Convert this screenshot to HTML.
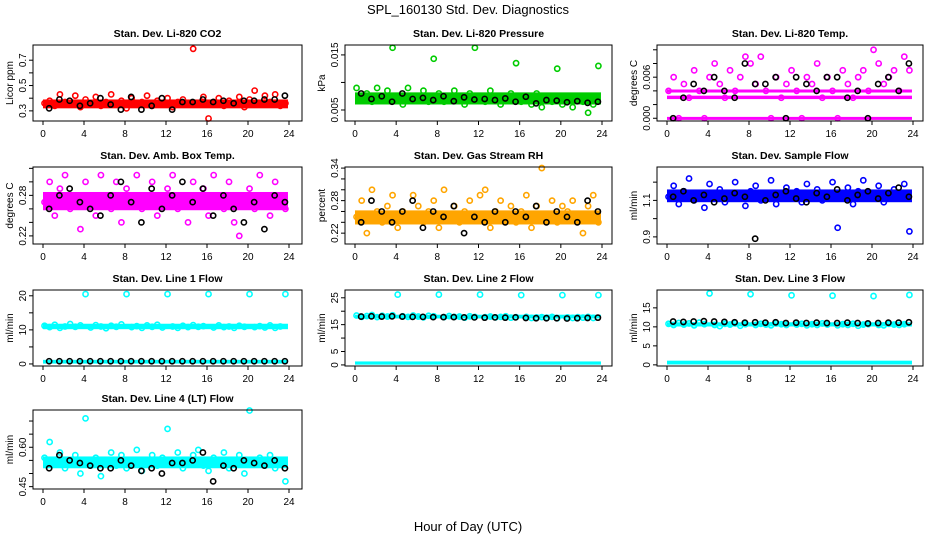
<!DOCTYPE html>
<html><head><meta charset="utf-8"><style>
body{margin:0;background:#fff}
svg{display:block;font-family:"Liberation Sans",sans-serif}
</style></head><body>
<svg id="c" width="936" height="540" viewBox="0 0 936 540">
<text x="468" y="14" font-size="13" text-anchor="middle">SPL_160130  Std. Dev. Diagnostics</text>
<text x="468" y="531" font-size="13" text-anchor="middle">Hour of Day (UTC)</text>
</svg>
<script>
// ---- data ----
const titles=["Stan. Dev. Li-820 CO2","Stan. Dev. Li-820 Pressure","Stan. Dev. Li-820 Temp.","Stan. Dev. Amb. Box Temp.","Stan. Dev. Gas Stream RH","Stan. Dev. Sample Flow","Stan. Dev. Line 1 Flow","Stan. Dev. Line 2 Flow","Stan. Dev. Line 3 Flow","Stan. Dev. Line 4 (LT) Flow"];
const units=["Licor ppm","kPa","degrees C","degrees C","percent","ml/min","ml/min","ml/min","ml/min","ml/min"];
const colors=["#ff0000","#00cc00","#ff00ff","#ff00ff","#ffa500","#0000ff","#00ffff","#00ffff","#00ffff","#00ffff"];
const yMin=[0.22,0.003,-0.0004,0.208,0.20,0.861,-0.6,-0.4,-0.3,0.441];
const yMax=[0.82,0.0168,0.0107,0.322,0.342,1.283,21.7,27.9,19.7,0.742];
const tickVals=[[0.3,0.4,0.5,0.6,0.7],[0.005,0.01,0.015],[0,0.002,0.004,0.006,0.008,0.01],[0.22,0.24,0.26,0.28,0.30,0.32],[0.22,0.24,0.26,0.28,0.30,0.32,0.34],[0.9,1.0,1.1,1.2],[0,5,10,15,20],[0,5,10,15,20,25],[0,5,10,15],[0.45,0.50,0.55,0.60,0.65,0.70]];
const tickLabels=[["0.3","","0.5","","0.7"],["0.005","","0.015"],["0.000","","","0.006","",""],["0.22","","","0.28","",""],["0.22","","","0.28","","","0.34"],["0.9","","1.1",""],["0","","10","","20"],["0","5","","15","","25"],["0","5","10","15"],["0.45","","","0.60","",""]];
const xTicks=[0,4,8,12,16,20,24];
const bandLo=[[0.32],[0.006],[0.0028,-0.0002,0.0039],[0.258],[0.236],[1.09],[10.2,0.1],[17.3,0.1],[10.1,0.1],[0.52]];
const bandHi=[[0.39],[0.0082],[0.0033,0.0002,0.0042],[0.285],[0.262],[1.16],[11.8,1.2],[18.7,1.3],[11.2,1.1],[0.565]];
const colorVals=[
[0.36,0.38,0.34,0.43,0.37,0.35,0.42,0.33,0.39,0.36,0.41,0.34,0.37,0.43,0.35,0.38,0.32,0.40,0.36,0.37,0.42,0.34,0.38,0.35,0.40,0.33,0.37,0.39,0.35,0.79,0.36,0.41,0.24,0.37,0.40,0.34,0.38,0.36,0.41,0.33,0.39,0.46,0.35,0.42,0.37,0.43,0.34,0.36],
[0.009,0.0075,0.008,0.0065,0.009,0.007,0.0085,0.0163,0.0075,0.006,0.009,0.007,0.0075,0.0085,0.0065,0.0143,0.008,0.0065,0.007,0.0085,0.0075,0.006,0.008,0.0163,0.007,0.0065,0.0085,0.0075,0.006,0.007,0.008,0.0135,0.0065,0.0075,0.006,0.008,0.0055,0.007,0.0065,0.0125,0.006,0.0075,0.0055,0.007,0.0065,0.0045,0.006,0.013],
[0.004,0.006,0,0.005,0.003,0.007,0.004,0,0.006,0.008,0.005,0.003,0.007,0.004,0.006,0.009,0.008,0.005,0.009,0.004,0,0.006,0.003,0.005,0.007,0.004,0,0.006,0.005,0.008,0.003,0.006,0.004,0,0.007,0.005,0.003,0.006,0.007,0.004,0.010,0.008,0.005,0.006,0.007,0.004,0.009,0.007],
[0.27,0.30,0.25,0.29,0.31,0.26,0.28,0.23,0.30,0.27,0.25,0.31,0.28,0.26,0.30,0.24,0.29,0.27,0.31,0.26,0.28,0.30,0.25,0.27,0.29,0.31,0.26,0.28,0.24,0.30,0.27,0.29,0.25,0.31,0.28,0.26,0.30,0.24,0.22,0.27,0.29,0.26,0.31,0.28,0.25,0.30,0.27,0.26],
[0.25,0.28,0.22,0.30,0.26,0.24,0.27,0.29,0.23,0.26,0.25,0.29,0.27,0.24,0.26,0.28,0.23,0.30,0.25,0.27,0.24,0.26,0.28,0.25,0.29,0.30,0.23,0.26,0.28,0.25,0.27,0.24,0.26,0.29,0.23,0.27,0.34,0.25,0.28,0.24,0.27,0.26,0.28,0.25,0.22,0.27,0.29,0.24],
[1.12,1.18,1.08,1.15,1.22,1.10,1.14,1.06,1.19,1.12,1.16,1.09,1.13,1.20,1.11,1.07,1.15,1.18,1.10,1.13,1.21,1.08,1.14,1.17,1.11,1.15,1.09,1.19,1.12,1.16,1.10,1.14,1.20,0.95,1.13,1.17,1.08,1.15,1.21,1.11,1.14,1.18,1.09,1.13,1.16,1.12,1.19,0.93],
[11.2,10.8,11.5,10.6,11.0,11.7,10.9,11.3,20.5,10.7,11.4,11.0,10.5,11.2,10.9,11.6,20.5,10.8,11.1,10.6,11.3,10.9,11.5,10.7,20.5,11.0,10.6,11.2,10.8,11.4,10.9,11.1,20.5,10.7,11.3,10.8,11.0,10.6,11.2,10.9,20.5,10.8,11.1,10.7,11.3,10.6,11.0,20.5],
[18.4,17.9,18.2,18.6,17.8,18.3,18.0,18.5,26.2,18.1,17.9,18.4,18.0,17.7,18.3,18.1,26.2,17.8,18.2,17.9,18.0,17.6,18.1,17.9,26.2,17.8,18.0,17.7,17.9,18.1,17.6,17.8,26.0,17.9,17.5,17.7,17.8,17.6,17.9,17.4,26.0,17.7,17.5,17.8,17.6,17.9,17.5,26.0],
[10.8,10.5,11.0,10.6,10.9,10.4,11.1,10.7,18.8,10.5,10.2,10.8,10.6,10.9,10.3,10.7,18.6,10.5,10.8,10.6,10.4,10.9,10.7,10.5,18.3,10.6,10.8,10.4,10.7,10.5,10.9,10.6,18.2,10.4,10.7,10.5,10.8,10.3,10.6,10.7,18.1,10.5,10.4,10.8,10.6,10.5,10.7,18.4],
[0.56,0.62,0.54,0.58,0.52,0.55,0.57,0.50,0.71,0.53,0.56,0.49,0.55,0.58,0.53,0.57,0.52,0.55,0.59,0.51,0.54,0.57,0.53,0.56,0.67,0.54,0.58,0.52,0.55,0.57,0.59,0.53,0.51,0.56,0.54,0.58,0.52,0.55,0.57,0.50,0.74,0.54,0.56,0.53,0.57,0.52,0.55,0.47]
];
const blackVals=[
[0.32,0.39,0.38,0.34,0.36,0.40,0.35,0.31,0.41,0.31,0.34,0.40,0.31,0.37,0.37,0.39,0.37,0.38,0.36,0.38,0.38,0.39,0.39,0.42],
[0.008,0.007,0.0075,0.0065,0.008,0.007,0.0072,0.0068,0.0075,0.0066,0.0073,0.0069,0.007,0.0068,0.0071,0.0065,0.0074,0.0062,0.0068,0.0067,0.0064,0.0066,0.0063,0.0065],
[0,0.003,0.005,0.004,0.006,0.004,0.003,0.008,0.005,0.005,0.006,0,0.006,0.005,0.004,0.006,0.006,0.003,0.004,0,0.005,0.006,0.004,0.008],
[0.26,0.28,0.29,0.27,0.26,0.25,0.28,0.30,0.27,0.24,0.29,0.26,0.28,0.30,0.27,0.29,0.25,0.28,0.26,0.24,0.27,0.23,0.28,0.27],
[0.24,0.28,0.26,0.24,0.26,0.28,0.23,0.26,0.25,0.27,0.22,0.25,0.24,0.26,0.24,0.26,0.25,0.27,0.24,0.26,0.25,0.24,0.28,0.26],
[1.12,1.15,1.10,1.13,1.09,1.11,1.14,1.12,0.89,1.10,1.13,1.15,1.11,1.09,1.14,1.12,1.16,1.10,1.13,1.15,1.11,1.14,1.17,1.12],
[0.8,0.8,0.8,0.8,0.8,0.8,0.8,0.8,0.8,0.8,0.8,0.8,0.8,0.8,0.8,0.8,0.8,0.8,0.8,0.8,0.8,0.8,0.8,0.8],
[18.0,18.1,18.0,18.1,18.0,17.9,17.9,17.8,17.8,17.8,17.7,17.7,17.6,17.7,17.6,17.7,17.5,17.4,17.4,17.4,17.3,17.4,17.5,17.6],
[11.4,11.3,11.4,11.5,11.4,11.3,11.2,11.1,11.2,11.1,11.2,11.0,11.1,11.0,11.1,11.0,11.0,11.1,11.0,10.9,11.0,11.1,11.1,11.2],
[0.52,0.57,0.55,0.54,0.53,0.52,0.52,0.55,0.53,0.51,0.52,0.50,0.54,0.54,0.55,0.58,0.47,0.53,0.52,0.55,0.54,0.53,0.55,0.52]
];
const colorHours=Array.from({length:48},(_,i)=>i*0.5+0.15);
const blackHours=Array.from({length:24},(_,i)=>i+0.6);
// ---- layout ----
const cols=[{l:33,r:302,h0:43,h24:289},{l:345,r:612,h0:355,h24:602},{l:657,r:923,h0:667,h24:913}];
const rows=[{t:45,b:121},{t:167,b:244},{t:290,b:366},{t:410,b:489}];
const NS="http://www.w3.org/2000/svg";
const svg=document.getElementById('c');
function mk(tag,attrs,parent){const e=document.createElementNS(NS,tag);for(const k in attrs)e.setAttribute(k,attrs[k]);(parent||svg).appendChild(e);return e;}
titles.forEach((title,p)=>{
  const c=cols[p%3], r=rows[Math.floor(p/3)];
  const g=mk('g',{});
  
  
  const xs=h=>c.h0+(c.h24-c.h0)*h/24;
  const ys=v=>r.b-(r.b-r.t)*(v-yMin[p])/(yMax[p]-yMin[p]);
  const tt=mk('text',{x:(c.l+c.r)/2,y:r.t-8,'font-size':10.5,'font-weight':'bold','text-anchor':'middle'},g);
  tt.textContent=title;
  
  
  const yl=mk('text',{x:0,y:0,'font-size':10,'text-anchor':'middle',transform:`translate(${c.l-20},${(r.t+r.b)/2}) rotate(-90)`},g);
  yl.textContent=units[p];
  
  
  bandLo[p].forEach((lo,k)=>{
    const y1=ys(bandHi[p][k]), y2=ys(lo);
    const b=mk('rect',{x:xs(0),y:Math.min(y1,y2),width:xs(23.9)-xs(0),height:Math.max(3,Math.abs(y2-y1)),fill:colors[p]},g);
    
    
  });
  colorVals[p].forEach((v,i)=>{
    const pt=mk('circle',{cx:xs(colorHours[i]),cy:ys(v),r:2.6,fill:'none',stroke:colors[p],'stroke-width':1.6},g);
    
    
  });
  blackVals[p].forEach((v,i)=>{
    const pt=mk('circle',{cx:xs(blackHours[i]),cy:ys(v),r:2.6,fill:'none',stroke:'#000','stroke-width':1.6},g);
    
    
  });
  const box=mk('rect',{x:c.l,y:r.t,width:c.r-c.l,height:r.b-r.t,fill:'none',stroke:'#000','stroke-width':1},g);
  
  
  xTicks.forEach(h=>{
    mk('line',{x1:xs(h),x2:xs(h),y1:r.b,y2:r.b+4,stroke:'#000'},g);
    const t=mk('text',{x:xs(h),y:r.b+16,'font-size':10,'text-anchor':'middle'},g);
    t.textContent=h;
    
    
  });
  tickVals[p].forEach((v,k)=>{
    const y=ys(v);
    mk('line',{x1:c.l-4,x2:c.l,y1:y,y2:y,stroke:'#000'},g);
    const t=mk('text',{x:0,y:0,'font-size':10,'text-anchor':'middle',transform:`translate(${c.l-7},${y}) rotate(-90)`},g);
    t.textContent=tickLabels[p][k];
    
    
  });
});
</script>
</body></html>
